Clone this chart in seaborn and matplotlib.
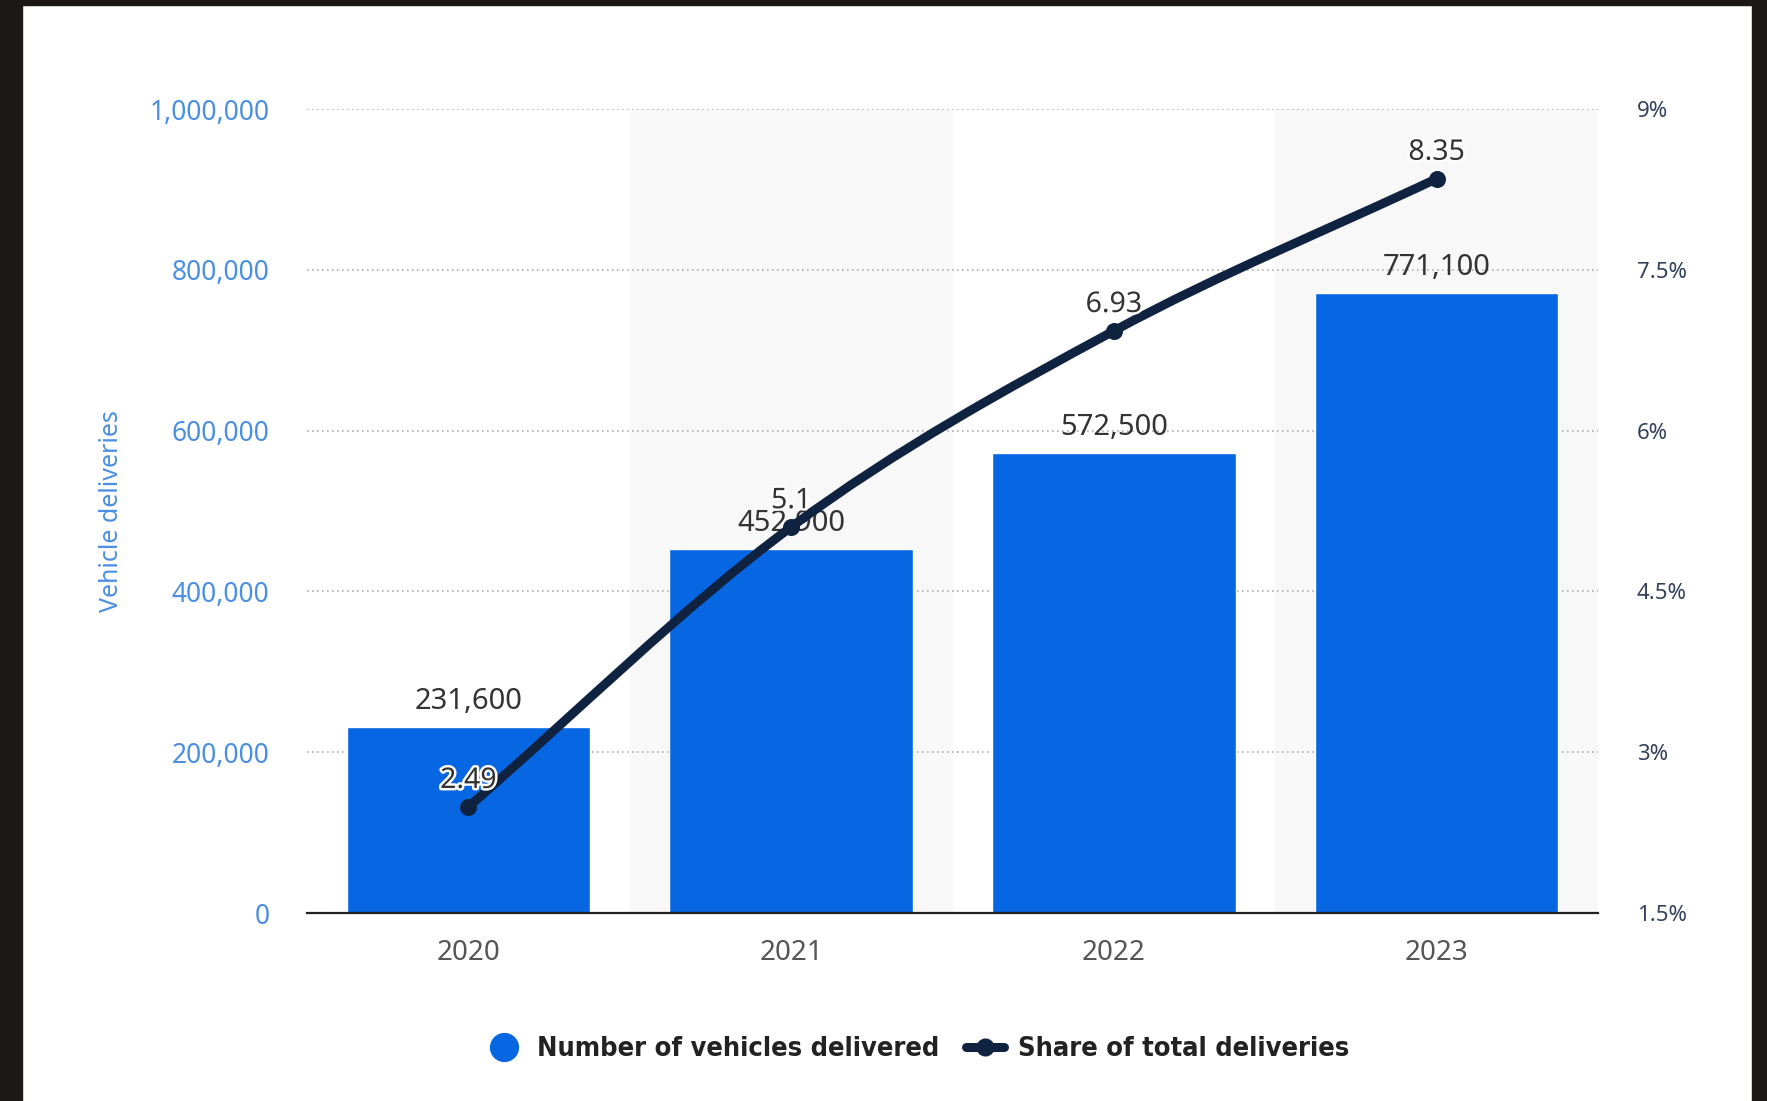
import numpy as np
import pandas as pd
import matplotlib
matplotlib.use("Agg")
import matplotlib.pyplot as plt
import seaborn as sns
from matplotlib.path import Path
from matplotlib.patches import PathPatch, Rectangle
from matplotlib.lines import Line2D
from matplotlib.ticker import FuncFormatter, FixedLocator
from matplotlib.transforms import Bbox, TransformedBbox
import matplotlib.patheffects as pe

# --- data -------------------------------------------------------------
years = ["2020", "2021", "2022", "2023"]
deliveries = [231600, 452900, 572500, 771100]
share_pct = [2.49, 5.1, 6.93, 8.35]

left_ticks = [0, 200000, 400000, 600000, 800000, 1000000]
right_ticks = [1.5, 3, 4.5, 6, 7.5, 9]
right_labels = ["1.5%", "3%", "4.5%", "6%", "7.5%", "9%"]

bar_label = "Number of vehicles delivered"
line_label = "Share of total deliveries"
y_title = "Vehicle deliveries"

# --- style ------------------------------------------------------------
BAR_BLUE = "#0766e1"
NAVY = "#0f2341"
TICK_BLUE = "#4a8fe3"
RIGHT_TICK = "#33405c"
TEXT_DARK = "#333333"
BAND = "#f8f8f8"

sns.set_theme(style="white")
plt.rcParams["font.family"] = ["Noto Sans", "DejaVu Sans"]

W, H = 1767, 1101
fig = plt.figure(figsize=(W / 100, H / 100), dpi=100, facecolor="white")
ax = fig.add_axes([307 / W, 1 - 913 / H, (1598 - 307) / W, (913 - 109) / H])

df = pd.DataFrame({"year": years, "deliveries": deliveries})

# alternating column shading
for i in range(len(years)):
    if i % 2 == 1:
        ax.axvspan(i - 0.5, i + 0.5, color=BAND, zorder=0, lw=0)

sns.barplot(data=df, x="year", y="deliveries", color=BAR_BLUE, saturation=1,
            width=0.755, ax=ax, zorder=2)

ax.set_xlim(-0.5, len(years) - 0.5)
ax.set_ylim(left_ticks[0], left_ticks[-1])
ax.yaxis.set_major_locator(FixedLocator(left_ticks))
ax.yaxis.set_major_formatter(FuncFormatter(lambda v, p: f"{v:,.0f}"))
ax.grid(axis="y", color="#b0b0b0", linestyle=(0, (1, 2)), lw=1.2, zorder=1)
ax.grid(axis="x", visible=False)
ax.set_axisbelow(True)
for s in ["top", "left", "right"]:
    ax.spines[s].set_visible(False)
ax.spines["bottom"].set_color("#222222")
ax.spines["bottom"].set_linewidth(1.6)
ax.spines["bottom"].set_zorder(5)
ax.tick_params(axis="y", length=0, pad=27, labelsize=19, labelcolor=TICK_BLUE)
ax.tick_params(axis="x", length=0, pad=19, labelsize=20, labelcolor="#555555")
ax.set_xlabel("")
ax.set_ylabel(y_title, color=TICK_BLUE, fontsize=18)
ax.yaxis.set_label_coords(-0.142, 0.5)

for c in ax.containers:
    ax.bar_label(c, labels=[f"{v:,.0f}" for v in deliveries], padding=8,
                 fontsize=21, color=TEXT_DARK, zorder=6)

# --- share line on the right axis -------------------------------------
ax2 = ax.twinx()
ax2.set_ylim(right_ticks[0], right_ticks[-1])
ax2.yaxis.set_major_locator(FixedLocator(right_ticks))
ax2.set_yticklabels(right_labels)
ax2.tick_params(axis="y", length=0, pad=28, labelsize=16, labelcolor=RIGHT_TICK)
for s in ax2.spines.values():
    s.set_visible(False)
ax2.grid(False)

xs = np.arange(len(years), dtype=float)
ys = np.array(share_pct, dtype=float)

# smooth curve through the points (Catmull-Rom tangents as cubic Beziers)
tang = np.zeros((len(xs), 2))
pts = np.column_stack([xs, ys])
for i in range(len(xs)):
    if i == 0:
        tang[i] = pts[1] - pts[0]
    elif i == len(xs) - 1:
        tang[i] = pts[-1] - pts[-2]
    else:
        tang[i] = (pts[i + 1] - pts[i - 1]) / 2
verts = [tuple(pts[0])]
codes = [Path.MOVETO]
for i in range(len(xs) - 1):
    verts += [tuple(pts[i] + tang[i] / 3), tuple(pts[i + 1] - tang[i + 1] / 3), tuple(pts[i + 1])]
    codes += [Path.CURVE4] * 3
ax2.add_patch(PathPatch(Path(verts, codes), fill=False, edgecolor=NAVY, lw=6.5,
                        capstyle="round", joinstyle="round", zorder=3))
sns.scatterplot(x=xs, y=ys, ax=ax2, color=NAVY, s=150, edgecolor=NAVY,
                linewidth=0, zorder=4, legend=False)

for x, v in zip(xs, share_pct):
    ax2.annotate(f"{v:g}", (x, v), xytext=(0, 19), textcoords="offset points",
                 ha="center", va="center", fontsize=20.5, color=TEXT_DARK, zorder=7,
                 path_effects=[pe.withStroke(linewidth=3.5, foreground="white")])

# --- legend -----------------------------------------------------------
handles = [
    Line2D([], [], marker="o", linestyle="none", color=BAR_BLUE, markersize=20),
    Line2D([], [], marker="o", color=NAVY, lw=6.5, markersize=12),
]
fig.legend(handles, [bar_label, line_label], loc="center", ncol=2,
           bbox_to_anchor=(917 / W, 1 - 1049 / H), frameon=False,
           prop={"family": "DejaVu Sans", "weight": "bold", "stretch": "condensed", "size": 19.5},
           labelcolor="#222222", handlelength=1.4, handletextpad=0.5, columnspacing=1.0)

# --- dark frame edges ---------------------------------------------------
frame = "#1b1817"
fig.add_artist(Rectangle((0, 0), 22 / W, 1, transform=fig.transFigure, color=frame, zorder=10))
fig.add_artist(Rectangle((0, 1 - 5 / H), 1, 5 / H, transform=fig.transFigure, color=frame, zorder=10))
fig.add_artist(Rectangle((1752 / W, 0), 15 / W, 1, transform=fig.transFigure, color=frame, zorder=10))

# right-axis labels are cut off by a fixed-width label column
fig.canvas.draw()
clip = TransformedBbox(Bbox([[0, 0], [1686 / W, 1]]), fig.transFigure)
for lbl in ax2.get_yticklabels():
    lbl.set_clip_box(clip)
    lbl.set_clip_on(True)

fig.savefig("out.png", dpi=100, facecolor="white")
